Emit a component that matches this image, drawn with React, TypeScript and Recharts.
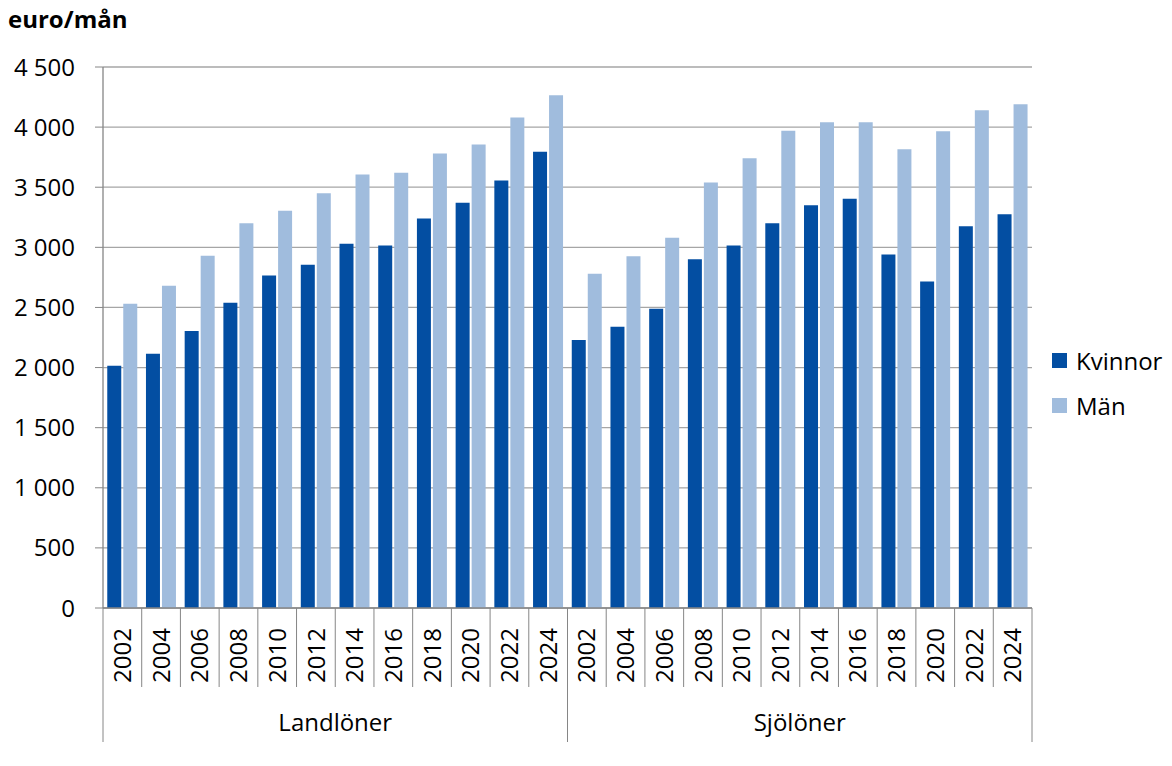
import React from 'react';
import { BarChart, Bar, XAxis, YAxis, CartesianGrid } from 'recharts';

const years = ['2002', '2004', '2006', '2008', '2010', '2012', '2014', '2016', '2018', '2020', '2022', '2024'];
const groups = ['Landlöner', 'Sjölöner'];

const landKvinnor = [2015, 2115, 2305, 2540, 2765, 2855, 3030, 3015, 3240, 3370, 3555, 3795];
const landMan = [2530, 2680, 2930, 3200, 3305, 3450, 3605, 3620, 3780, 3855, 4080, 4265];
const sjoKvinnor = [2230, 2340, 2490, 2900, 3015, 3200, 3350, 3405, 2940, 2715, 3175, 3275];
const sjoMan = [2780, 2925, 3080, 3540, 3740, 3970, 4040, 4040, 3815, 3965, 4140, 4190];

const yTicks = [0, 500, 1000, 1500, 2000, 2500, 3000, 3500, 4000, 4500];

const series = [
  { key: 'kvinnor', label: 'Kvinnor', color: '#034EA2' },
  { key: 'man', label: 'Män', color: '#A0BCDD' },
];

const data = [
  ...years.map((y, i) => ({ key: 'L' + y, year: y, kvinnor: landKvinnor[i], man: landMan[i] })),
  ...years.map((y, i) => ({ key: 'S' + y, year: y, kvinnor: sjoKvinnor[i], man: sjoMan[i] })),
];

const FONT = '"Open Sans", sans-serif';
const AXIS = '#868686';
const PLOT_W = 1172 - 103 - 140;
const BAND = PLOT_W / data.length;

const fmt = (v: number) => String(v).replace(/\B(?=(\d{3})+(?!\d))/g, ' ');

const CategoryTick = (props: any) => {
  const { x, y, payload } = props;
  const idx = payload.index;
  const half = payload.offset || BAND / 2;
  const left = x - half;
  const right = x + half;
  const perGroup = years.length;
  const row = data[idx];
  const firstInGroup = idx % perGroup === 0;
  const last = idx === data.length - 1;
  return (
    <g>
      <line x1={left} y1={y} x2={left} y2={y + (firstInGroup ? 134 : 79)} stroke={AXIS} />
      {last && <line x1={right} y1={y} x2={right} y2={y + 134} stroke={AXIS} />}
      <text
        x={x}
        y={y + 20}
        transform={`rotate(-90, ${x}, ${y + 20})`}
        textAnchor="end"
        dy="0.36em"
        fontSize={24}
        fontFamily={FONT}
        fill="#000"
      >
        {row ? row.year : ''}
      </text>
      {firstInGroup && (
        <text
          x={left + half * perGroup}
          y={y + 123}
          textAnchor="middle"
          fontSize={24}
          fontFamily={FONT}
          fill="#000"
        >
          {groups[Math.floor(idx / perGroup)]}
        </text>
      )}
    </g>
  );
};

export default function App() {
  return (
    <div style={{ position: 'absolute', left: 0, top: 0, width: 1172, height: 766, background: '#fff' }}>
      <div
        style={{
          position: 'absolute',
          left: 8,
          top: 2,
          fontFamily: FONT,
          fontWeight: 700,
          fontSize: 24,
          color: '#000',
        }}
      >
        euro/mån
      </div>
      <div
        style={{
          position: 'absolute',
          left: 1052,
          top: 338,
          fontFamily: FONT,
          fontSize: 24,
          color: '#000',
        }}
      >
        {series.map((it) => (
          <div key={it.key} style={{ display: 'flex', alignItems: 'center', height: 45 }}>
            <span style={{ width: 15, height: 15, background: it.color, display: 'inline-block', marginRight: 9 }} />
            <span>{it.label}</span>
          </div>
        ))}
      </div>
      <BarChart
        width={1172}
        height={766}
        data={data}
        margin={{ top: 67, right: 140, bottom: 24, left: 0 }}
        barCategoryGap="11%"
        barGap={2}
      >
        <CartesianGrid vertical={false} stroke="#A6A6A6" strokeWidth={1.3} />
        <XAxis
          dataKey="key"
          interval={0}
          height={134}
          tickSize={0}
          tickMargin={0}
          axisLine={{ stroke: AXIS, strokeWidth: 1.3 }}
          tick={<CategoryTick />}
        />
        <YAxis
          width={103}
          domain={[0, 4500]}
          ticks={yTicks}
          tickFormatter={fmt}
          tickSize={8}
          tickMargin={20}
          axisLine={{ stroke: AXIS, strokeWidth: 1.3 }}
          tickLine={{ stroke: AXIS }}
          tick={{ fontSize: 24, fontFamily: FONT, fill: '#000' }}
          interval={0}
        />
        <YAxis
          yAxisId="r"
          orientation="right"
          width={0}
          domain={[0, 4500]}
          tick={false}
          tickLine={false}
          axisLine={{ stroke: AXIS, strokeWidth: 1.3 }}
        />
        {series.map((s) => (
          <Bar key={s.key} dataKey={s.key} name={s.label} fill={s.color} isAnimationActive={false} />
        ))}
      </BarChart>
    </div>
  );
}
